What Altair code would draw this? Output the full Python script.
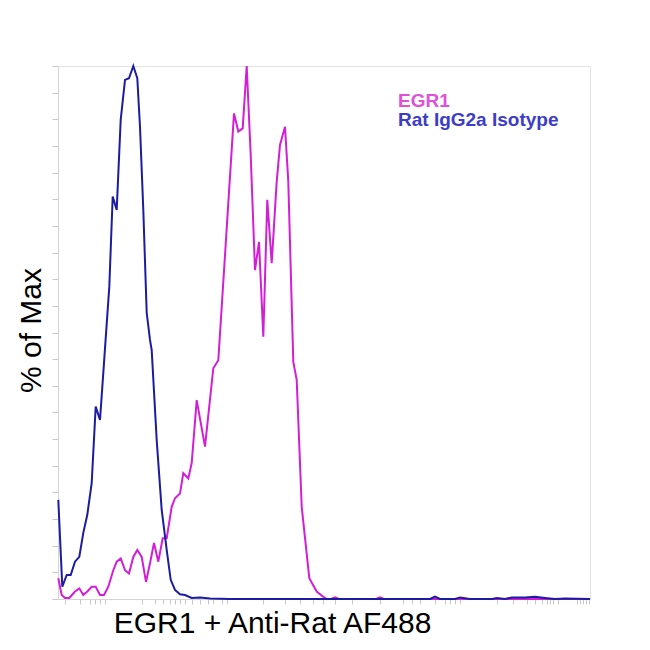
import altair as alt
import pandas as pd

# Channel (0-532 display units) and % of Max values
iso_x = [0.3, 4.3, 8.7, 12.7, 17, 21.3, 25.3, 29.3, 33.7, 37.7, 42, 46, 51.3, 54.7, 58.7, 62.7,
         67, 71, 75.3, 79.3, 82, 85.3, 88.7, 92, 93.7, 98.7, 103.7, 108.7, 112.7, 117, 122, 127,
         133.7, 142, 152, 172, 272, 372, 377, 382, 397, 402, 412, 434, 439, 447, 454, 467, 477,
         487, 497, 507, 532]
iso_y = [18.6, 2.3, 4.5, 4.5, 7.0, 7.9, 12.4, 15.8, 21.8, 36.1, 33.6, 44.3, 58.6, 75.5, 73.0, 89.9,
         97.4, 97.7, 100, 97.7, 88.6, 73.0, 53.7, 48.6, 46.7, 29.8, 16.7, 9.2, 3.6, 1.7, 0.9, 0.75,
         0.2, 0.3, 0.1, 0.0, 0.0, 0.0, 0.45, 0.0, 0.0, 0.3, 0.0, 0.0, 0.2, 0.0, 0.3, 0.3, 0.4,
         0.2, 0.0, 0.1, 0.0]

egr_x = [0.3, 3.7, 7, 11.3, 17, 21.3, 25.3, 29.3, 33.7, 37.7, 42, 46, 50.3, 55.3, 58.7, 62.7,
         67, 71, 75.3, 79.3, 83.7, 88, 92, 96, 100.3, 104.7, 108.7, 113.7, 117, 122, 125.3, 130.3,
         133.7, 138.7, 147, 155.3, 160.3, 167, 176, 180.3, 184.7, 188.7, 192.7, 197, 201, 205.3,
         209.3, 213.7, 218.7, 222, 227, 230.3, 235.3, 238.7, 243.7, 251.3, 258.7, 265.3, 268.7,
         273, 277, 281, 318, 322, 326, 532]
egr_y = [3.9, 0.75, 0.2, 0.2, 1.4, 2.0, 0.75, 1.4, 2.3, 2.3, 0.75, 0.75, 2.3, 5.4, 7.0, 7.6,
         5.4, 4.8, 7.9, 9.2, 7.9, 3.2, 6.7, 10.5, 7.0, 11.4, 11.4, 17.3, 18.9, 19.8, 23.6, 22.6,
         25.5, 37.3, 28.6, 43.3, 44.8, 64.5, 91.1, 87.7, 88.3, 100, 83.3, 61.7, 67.0, 49.2,
         74.9, 63.0, 78.3, 85.2, 88.6, 78.3, 44.5, 41.1, 17.3, 3.9, 1.4, 0.4, 0.0,
         0.0, 0.3, 0.0, 0.0, 0.3, 0.0, 0.0]

series_names = ["EGR1", "Rat IgG2a Isotype"]
series_colors = ["#d21fd6", "#1c1ca0"]
label_colors = ["#e050d8", "#3c3cc8"]

x_ticks = [7, 22, 32, 37, 42, 47, 84, 97, 105, 112, 117, 122, 127, 134, 142, 150, 155, 164, 169,
           205, 227, 242, 255, 265, 277, 294, 322, 345, 354, 362, 377, 387, 392, 397, 402, 439,
           455, 469, 477, 484, 489, 492, 495, 500, 519, 522, 525, 528, 531]
y_ticks = list(range(0, 101, 5))

df = pd.concat([
    pd.DataFrame({"ch": egr_x, "pct": egr_y, "series": series_names[0], "order": range(len(egr_x))}),
    pd.DataFrame({"ch": iso_x, "pct": iso_y, "series": series_names[1], "order": range(len(iso_x))}),
])

FONT = "Liberation Sans"

lines = alt.Chart(df).mark_line(strokeWidth=2, interpolate="linear").encode(
    x=alt.X("ch:Q", scale=alt.Scale(domain=[0, 532], nice=False, zero=False),
            axis=alt.Axis(title="EGR1 + Anti-Rat AF488", values=x_ticks, labels=False, grid=False,
                          domainColor="#d4d4d4", tickColor="#c8c8c8", tickSize=5,
                          titleFont=FONT, titleFontSize=30, titleFontWeight="normal",
                          titleColor="#000000", titleX=214, titleY=33,
                          titleAlign="center", titleBaseline="alphabetic")),
    y=alt.Y("pct:Q", scale=alt.Scale(domain=[0, 100], nice=False),
            axis=alt.Axis(title="% of Max", values=y_ticks, labels=False, grid=False,
                          domainColor="#d4d4d4", tickColor="#c8c8c8", tickSize=6,
                          titleFont=FONT, titleFontSize=30, titleFontWeight="normal",
                          titleColor="#000000", titleX=-18, titleY=264, titleAngle=270,
                          titleAlign="center", titleBaseline="alphabetic")),
    color=alt.Color("series:N", scale=alt.Scale(domain=series_names, range=series_colors), legend=None),
    order="order:Q",
    detail="series:N",
)

leg1 = alt.Chart(pd.DataFrame({"t": [series_names[0]]})).mark_text(
    align="left", baseline="alphabetic", font=FONT, fontSize=19, fontWeight="bold",
    color=label_colors[0]).encode(x=alt.value(340), y=alt.value(41), text="t:N")
leg2 = alt.Chart(pd.DataFrame({"t": [series_names[1]]})).mark_text(
    align="left", baseline="alphabetic", font=FONT, fontSize=19, fontWeight="bold",
    color=label_colors[1]).encode(x=alt.value(340), y=alt.value(60), text="t:N")

chart = alt.layer(lines, leg1, leg2).properties(
    width=532, height=533, autosize="none",
    padding={"left": 50, "top": 58, "right": 40, "bottom": 40},
    background="#ffffff",
).configure_view(stroke="#e2e2e2", strokeWidth=1)

chart.save("out.html", embed_options={"renderer": "svg", "actions": False})
